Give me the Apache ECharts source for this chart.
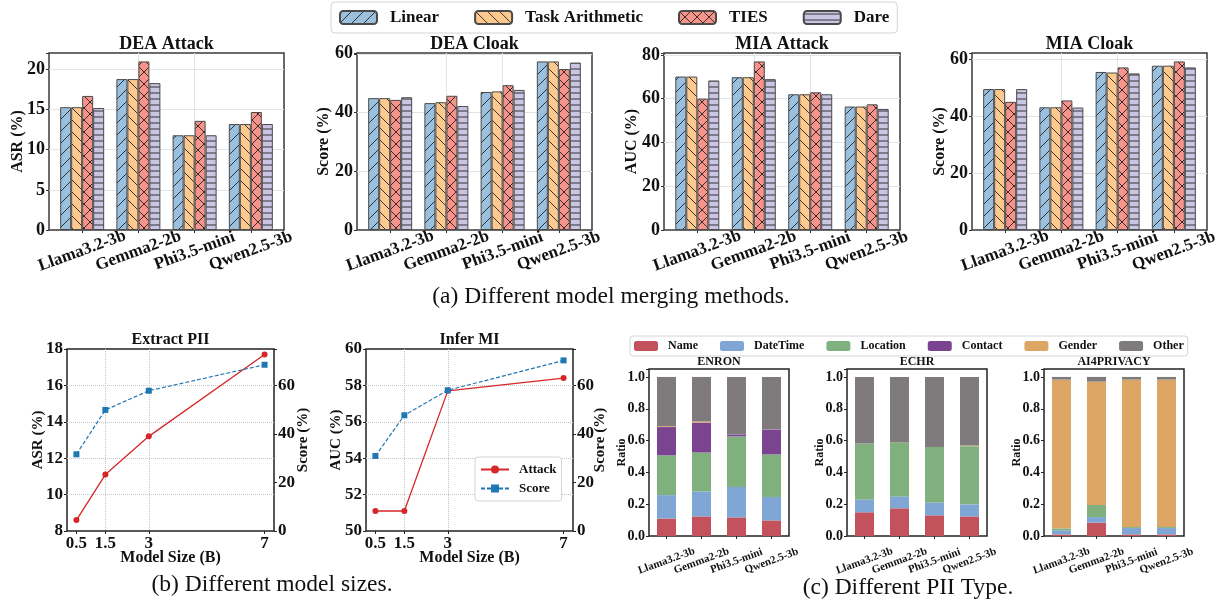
<!DOCTYPE html>
<html>
<head>
<meta charset="utf-8">
<title>Model merging privacy</title>
<script src="https://cdn.jsdelivr.net/npm/echarts@6/dist/echarts.min.js"></script>
<style>
  html, body { margin: 0; padding: 0; background: #fff; }
  #main { width: 1222px; height: 604px; }
</style>
</head>
<body>
<div id="main"></div>
<script>
// ---- data ----
var models = ['Llama3.2-3b', 'Gemma2-2b', 'Phi3.5-mini', 'Qwen2.5-3b'];
var methods = ['Linear', 'Task Arithmetic', 'TIES', 'Dare'];

// rows = methods, columns = models
var deaAttack = [
  [15.3, 18.8, 11.8, 13.2],
  [15.3, 18.8, 11.8, 13.2],
  [16.7, 21.0, 13.6, 14.7],
  [15.2, 18.3, 11.8, 13.2]
];
var deaCloak = [
  [44.9, 43.2, 47.0, 57.4],
  [44.9, 43.5, 47.2, 57.4],
  [44.3, 45.7, 49.3, 54.8],
  [45.2, 42.2, 47.7, 57.0]
];
var miaAttack = [
  [70.1, 69.8, 62.0, 56.4],
  [70.1, 69.8, 62.0, 56.4],
  [60.0, 77.0, 62.9, 57.4],
  [68.3, 68.9, 62.0, 55.3]
];
var miaCloak = [
  [49.5, 43.1, 55.5, 57.7],
  [49.5, 43.1, 55.3, 57.7],
  [45.0, 45.5, 57.1, 59.2],
  [49.5, 43.0, 55.0, 57.1]
];

// model size sweep
var sizes = [0.5, 1.5, 3, 7];
var extractAttack = [8.6, 11.1, 13.2, 17.7];
var extractScore = [31.6, 49.9, 57.8, 68.5];
var inferAttack = [51.1, 51.1, 57.7, 58.4];
var inferScore = [30.9, 47.7, 58.0, 70.3];

// PII type ratios, rows = piiTypes, columns = models
var piiTypes = ['Name', 'DateTime', 'Location', 'Contact', 'Gender', 'Other'];
var enron = [
  [0.110, 0.123, 0.117, 0.098],
  [0.147, 0.157, 0.191, 0.147],
  [0.250, 0.245, 0.318, 0.268],
  [0.178, 0.188, 0.012, 0.156],
  [0.005, 0.007, 0.000, 0.000],
  [0.310, 0.280, 0.362, 0.331]
];
var echr = [
  [0.149, 0.174, 0.130, 0.123],
  [0.081, 0.075, 0.081, 0.076],
  [0.352, 0.339, 0.348, 0.366],
  [0.000, 0.000, 0.000, 0.000],
  [0.000, 0.000, 0.000, 0.004],
  [0.418, 0.412, 0.441, 0.431]
];
var ai4privacy = [
  [0.010, 0.084, 0.010, 0.010],
  [0.026, 0.035, 0.040, 0.040],
  [0.012, 0.076, 0.006, 0.006],
  [0.000, 0.000, 0.000, 0.000],
  [0.935, 0.776, 0.927, 0.927],
  [0.017, 0.029, 0.017, 0.017]
];

// ---- styles ----
var SERIF = "'Liberation Serif', 'Times New Roman', serif";
var INK = '#111';
var methodColors = ['#9ac0dd', '#fdc98e', '#f6938b', '#cbc5e4'];
var methodHatch = ['/', '\\', 'x', '-'];
var piiColors = ['#c4525c', '#7fa6d5', '#80b07e', '#7a4491', '#dda664', '#7f7b7c'];

// matplotlib-like hatch as a repeating canvas pattern
function makeHatch(bg, kind) {
  var s = kind === '-' ? 6 : 12;
  var c = document.createElement('canvas');
  c.width = s; c.height = s;
  var g = c.getContext('2d');
  g.fillStyle = bg;
  g.fillRect(0, 0, s, s);
  g.strokeStyle = 'rgba(25,25,25,0.85)';
  g.lineWidth = 1;
  g.beginPath();
  for (var k = -1; k <= 1; k++) {
    if (kind === '/' || kind === 'x') { g.moveTo(k * s, s); g.lineTo(k * s + s, 0); }
    if (kind === '\\' || kind === 'x') { g.moveTo(k * s, 0); g.lineTo(k * s + s, s); }
  }
  if (kind === '-') { g.moveTo(0, s / 2); g.lineTo(s, s / 2); }
  g.stroke();
  return { image: c, repeat: 'repeat' };
}

function stepFormatter(step, digits) {
  return function (v) {
    var r = v / step;
    if (Math.abs(r - Math.round(r)) > 1e-6) return '';
    return digits ? v.toFixed(digits) : String(Math.round(v));
  };
}

function bold(size) {
  return { fontFamily: SERIF, fontWeight: 'bold', fontSize: size, color: INK };
}

var grids = [], xAxes = [], yAxes = [], series = [], texts = [];

function label(text, x, y, size, weight) {
  texts.push({
    type: 'text', x: x, y: y, silent: true,
    style: {
      text: text, fill: INK, align: 'center', verticalAlign: 'middle',
      textAlign: 'center', textVerticalAlign: 'middle',
      font: (weight || 'bold') + ' ' + size + 'px ' + SERIF
    }
  });
}

var noLine = { show: false, onZero: false };

// ---- (a) merging methods ----
var topPanels = [
  { title: 'DEA Attack', yName: 'ASR (%)', data: deaAttack, step: 5, left: 49, width: 235, gap: 23 },
  { title: 'DEA Cloak', yName: 'Score (%)', data: deaCloak, step: 20, left: 357, width: 235, gap: 25 },
  { title: 'MIA Attack', yName: 'AUC (%)', data: miaAttack, step: 20, left: 664, width: 236, gap: 24 },
  { title: 'MIA Cloak', yName: 'Score (%)', data: miaCloak, step: 20, left: 972, width: 235, gap: 24 }
];
var hatchFills = methodColors.map(function (c, j) { return makeHatch(c, methodHatch[j]); });

topPanels.forEach(function (p) {
  var gi = grids.length;
  grids.push({ left: p.left, top: 53, width: p.width, height: 177, show: true,
    borderColor: '#3a3a3a', borderWidth: 1.5, backgroundColor: '#fff' });
  var top = Math.max.apply(null, [].concat.apply([], p.data)) * 1.05;
  var xi = xAxes.length;
  xAxes.push({
    gridIndex: gi, type: 'value', min: -0.59, max: 3.59,
    axisLine: noLine,
    axisTick: { show: true, customValues: [0, 1, 2, 3], length: 3, lineStyle: { color: '#333' } },
    axisLabel: Object.assign(bold(17), {
      customValues: [0, 1, 2, 3], rotate: 20, align: 'center', verticalAlign: 'middle', margin: 21,
      showMinLabel: true, showMaxLabel: true,
      formatter: function (v) { return models[Math.round(v)] || ''; }
    }),
    splitLine: { show: true, showMinLine: false, showMaxLine: false, lineStyle: { color: '#e4e4e4' } }
  });
  var yi = yAxes.length;
  yAxes.push({
    gridIndex: gi, type: 'value', min: 0, max: top, interval: p.step,
    name: p.yName, nameLocation: 'middle', nameRotate: 90, nameGap: p.gap, nameMoveOverlap: false,
    nameTextStyle: bold(16),
    axisLine: noLine,
    axisTick: { show: true, length: 3, lineStyle: { color: '#333' } },
    axisLabel: Object.assign(bold(18), { margin: 4, formatter: stepFormatter(p.step) }),
    splitLine: { show: true, showMinLine: false, showMaxLine: false, lineStyle: { color: '#e4e4e4' } }
  });
  methods.forEach(function (m, j) {
    series.push({
      name: m, type: 'bar', xAxisIndex: xi, yAxisIndex: yi,
      barWidth: 11, barGap: '0%',
      data: models.map(function (_, i) { return [i, p.data[j][i]]; }),
      itemStyle: { color: hatchFills[j], borderColor: '#4a4a4a', borderWidth: 1 }
    });
  });
  label(p.title, p.left + p.width / 2, 44, 18);
});
label('(a) Different model merging methods.', 611, 297, 23.5, 'normal');

// ---- (b) model sizes ----
var linePanels = [
  { title: 'Extract PII', yName: 'ASR (%)', attack: extractAttack, score: extractScore, yMin: 8, yMax: 18, left: 67, gapL: 21, gapR: 22 },
  { title: 'Infer MI', yName: 'AUC (%)', attack: inferAttack, score: inferScore, yMin: 50, yMax: 60, left: 366, gapL: 22, gapR: 20 }
];
linePanels.forEach(function (p) {
  var gi = grids.length;
  grids.push({ left: p.left, top: 349, width: 207, height: 182, show: true,
    borderColor: '#222', borderWidth: 1.5, backgroundColor: '#fff' });
  var dotted = { show: true, showMinLine: false, showMaxLine: false, lineStyle: { color: '#c6c6c6', type: 'dotted' } };
  var xi = xAxes.length;
  xAxes.push({
    gridIndex: gi, type: 'value', min: 0.175, max: 7.325,
    name: 'Model Size (B)', nameLocation: 'middle', nameGap: 19, nameMoveOverlap: false,
    nameTextStyle: bold(16),
    axisLine: noLine,
    axisTick: { show: true, customValues: sizes, length: 3, lineStyle: { color: '#222' } },
    axisLabel: Object.assign(bold(17), { customValues: sizes, margin: 4, formatter: function (v) { return String(v); } }),
    splitLine: dotted
  });
  var yl = yAxes.length;
  yAxes.push({
    gridIndex: gi, type: 'value', position: 'left', min: p.yMin, max: p.yMax, interval: 2,
    name: p.yName, nameLocation: 'middle', nameRotate: 90, nameGap: p.gapL, nameMoveOverlap: false,
    nameTextStyle: bold(15),
    axisLine: noLine,
    axisTick: { show: true, length: 3, lineStyle: { color: '#222' } },
    axisLabel: Object.assign(bold(17), { margin: 4 }),
    splitLine: dotted
  });
  var yr = yAxes.length;
  yAxes.push({
    gridIndex: gi, type: 'value', position: 'right', min: 0, max: 75, interval: 20,
    name: 'Score (%)', nameLocation: 'middle', nameRotate: 90, nameGap: p.gapR, nameMoveOverlap: false,
    nameTextStyle: bold(15),
    axisLine: noLine,
    axisTick: { show: true, length: 3, lineStyle: { color: '#222' } },
    axisLabel: Object.assign(bold(17), { margin: 4, formatter: stepFormatter(20) }),
    splitLine: { show: false }
  });
  series.push({
    name: 'Attack', type: 'line', xAxisIndex: xi, yAxisIndex: yl,
    data: sizes.map(function (s, i) { return [s, p.attack[i]]; }),
    symbol: 'circle', symbolSize: 6,
    lineStyle: { color: '#d62728', width: 1.3 }, itemStyle: { color: '#d62728' }
  });
  series.push({
    name: 'Score', type: 'line', xAxisIndex: xi, yAxisIndex: yr,
    data: sizes.map(function (s, i) { return [s, p.score[i]]; }),
    symbol: 'rect', symbolSize: 6,
    lineStyle: { color: '#1f77b4', width: 1.2, type: [4, 2] }, itemStyle: { color: '#1f77b4' }
  });
  label(p.title, p.left + 103.5, 340, 16);
});
label('(b) Different model sizes.', 272, 585, 23.5, 'normal');

// ---- (c) PII types ----
var stackPanels = [
  { title: 'ENRON', data: enron, left: 649 },
  { title: 'ECHR', data: echr, left: 847 },
  { title: 'AI4PRIVACY', data: ai4privacy, left: 1044 }
];
stackPanels.forEach(function (p, k) {
  var gi = grids.length;
  grids.push({ left: p.left, top: 369, width: 140, height: 167, show: true,
    borderColor: '#222', borderWidth: 1.5, backgroundColor: '#fff' });
  var xi = xAxes.length;
  xAxes.push({
    gridIndex: gi, type: 'category', data: models,
    axisLine: noLine,
    axisTick: { show: true, alignWithLabel: true, length: 3, lineStyle: { color: '#222' } },
    axisLabel: Object.assign(bold(11), { rotate: 20, align: 'center', verticalAlign: 'middle', margin: 25, interval: 0 }),
    splitLine: { show: false }
  });
  var yi = yAxes.length;
  yAxes.push({
    gridIndex: gi, type: 'value', min: 0, max: 1.05, interval: 0.2,
    name: 'Ratio', nameLocation: 'middle', nameRotate: 90, nameGap: 21, nameMoveOverlap: false,
    nameTextStyle: bold(12),
    axisLine: noLine,
    axisTick: { show: true, length: 3, lineStyle: { color: '#222' } },
    axisLabel: Object.assign(bold(14), { margin: 4, formatter: stepFormatter(0.2, 1) }),
    splitLine: { show: false }
  });
  piiTypes.forEach(function (t, j) {
    series.push({
      name: t, type: 'bar', stack: 'pii' + k, xAxisIndex: xi, yAxisIndex: yi,
      barWidth: 19, data: p.data[j],
      itemStyle: { color: piiColors[j], borderWidth: 0 }
    });
  });
  label(p.title, p.left + 70, 362, 12);
});
label('(c) Different PII Type.', 908, 588, 23.5, 'normal');

var myChart = echarts.init(document.getElementById('main'), null, { renderer: 'canvas' });
myChart.setOption({
  animation: false,
  backgroundColor: '#fff',
  textStyle: { fontFamily: SERIF },
  legend: [
    {
      data: methods, left: 331, top: 2, itemWidth: 37, itemHeight: 13, itemGap: 35,
      padding: [7, 8], borderColor: '#d4d4d4', borderWidth: 1, borderRadius: 4, backgroundColor: '#fff',
      textStyle: Object.assign(bold(17), { padding: [0, 0, 0, 8] })
    },
    {
      data: piiTypes, left: 630, top: 336, itemWidth: 24, itemHeight: 10, itemGap: 22,
      padding: [4, 4], borderColor: '#d4d4d4', borderWidth: 1, borderRadius: 3, backgroundColor: '#fff',
      textStyle: Object.assign(bold(12), { padding: [0, 0, 0, 5] })
    },
    {
      data: ['Attack', 'Score'], orient: 'vertical', left: 475, top: 457,
      itemWidth: 28, itemHeight: 10, itemGap: 6,
      padding: [6, 5], borderColor: '#d4d4d4', borderWidth: 1, borderRadius: 3, backgroundColor: '#fff',
      textStyle: Object.assign(bold(13), { padding: [0, 0, 0, 5] })
    }
  ],
  grid: grids,
  xAxis: xAxes,
  yAxis: yAxes,
  series: series,
  graphic: texts
});
</script>
</body>
</html>
